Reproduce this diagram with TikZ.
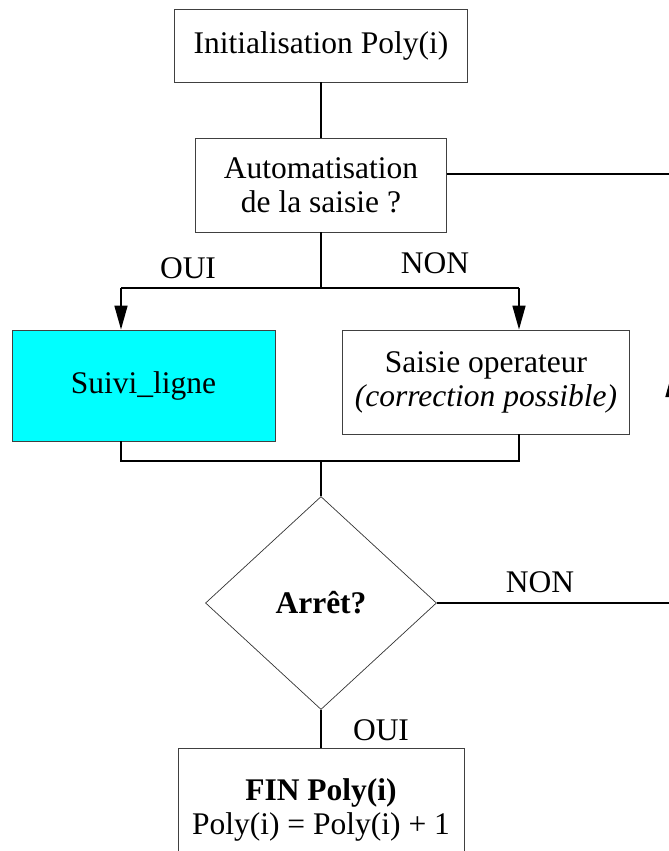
\documentclass[tikz,border=0pt]{standalone}
\usepackage{fontspec}
\setmainfont{Liberation Serif}
\usetikzlibrary{positioning}
\usetikzlibrary{shapes.geometric}
\usetikzlibrary{arrows.meta}
\definecolor{suivicyan}{RGB}{0,255,255}
\tikzset{
	boite/.style={draw=black!75, line width=.9pt, align=center, inner sep=0pt},
	lien/.style={line width=1.7pt},
	fleche/.style={line width=1.7pt, -{Triangle[length=24pt,width=13pt]}},
	etiq/.style={inner sep=0pt}
}

\begin{document}
\begin{tikzpicture}[x=1pt, y=-1pt, font=\fontsize{31.5}{34}\selectfont]
	\useasboundingbox (0,0) rectangle (669,851);
	\node [boite, minimum width=293pt, minimum height=73pt] at (321,45.5) (init) {Initialisation Poly(i)};
	\node [boite, minimum width=251pt, minimum height=94pt] at (321,185) (auto) {Automatisation\\de la saisie ?};
	\draw [lien] (init.south)--(auto.north);
	\coordinate (rtop) at (672,174); \coordinate (rbot) at (672,603); \coordinate (rfl) at (672,373);
	\draw [lien] (rtop -| auto.east)--(rtop);
	\node [boite, fill=suivicyan, minimum width=263pt, minimum height=111pt] at (143.5,385.5) (suivi) {Suivi\_ligne};
	\node [boite, minimum width=287pt, minimum height=104pt] at (486,382) (saisie) {Saisie operateur\\\textit{(correction possible)}};
	\coordinate (split) at (321,288); \coordinate (splitL) at (121,288); \coordinate (splitR) at (519,288);
	\draw [lien] (auto.south)--(split); \draw [lien] (splitL)--(splitR);
	\draw [fleche] (splitL)--(splitL |- suivi.north); \draw [fleche] (splitR)--(splitR |- saisie.north);
	\node [etiq] at (188,268) (oui1) {OUI}; \node [etiq] at (435,263) (non1) {NON};
	\coordinate (merge) at (321,461); \coordinate (mergeL) at (121,461); \coordinate (mergeR) at (519,461);
	\draw [lien] (mergeL |- suivi.south)--(mergeL)--(mergeR)--(mergeR |- saisie.south);
	\node [draw=black!80, line width=.7pt, diamond, minimum width=231pt, minimum height=213pt, inner sep=0pt] at (321,603) (arret) {\bfseries Arrêt?};
	\draw [lien] (merge)--(arret.north);
	\draw [lien] (arret.east)--(arret.east -| rbot);
	\node [etiq] at (540,582) (non2) {NON};
	\draw [lien] (rbot)--(rtop); \draw [fleche] (rbot)--(rfl);
	\node [boite, minimum width=286pt, minimum height=124pt] at (321,810) (fin) {\textbf{FIN Poly(i)}\\Poly(i) = Poly(i) + 1};
	\draw [lien] (arret.south)--(fin.north);
	\node [etiq] at (381,730) (oui2) {OUI};
\end{tikzpicture}
\end{document}
